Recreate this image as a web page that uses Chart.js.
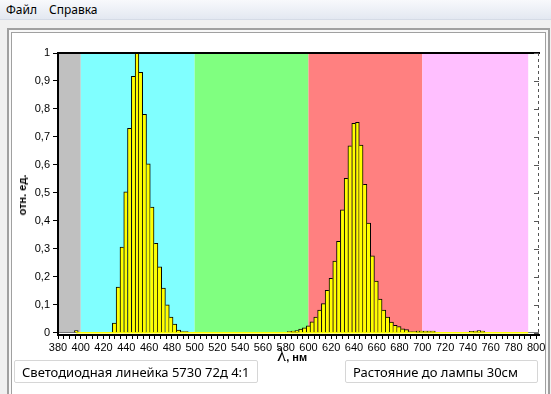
<!DOCTYPE html>
<html>
<head>
<meta charset="utf-8">
<script src="https://cdn.jsdelivr.net/npm/chart.js@4.4.1/dist/chart.umd.min.js"></script>
<style>
    body { margin: 0; width: 551px; height: 394px; background: #f0f0f0; overflow: hidden; position: relative; font-family: "Noto Sans", sans-serif; }
    .menu { position: absolute; left: 0; top: 0; width: 551px; height: 19px; background: linear-gradient(#f8f9fc, #e3e8f1); border-bottom: 1px solid #d5dbe6; font-size: 12px; }
    .menu span { position: absolute; top: 1px; }
    .outer { position: absolute; left: 7px; top: 28px; width: 539px; height: 380px; border: 2px solid #a0a0a0; background: #f8f8f8; }
    .inner { position: absolute; left: 11px; top: 32px; width: 533px; height: 380px; border: 1px solid #a0a0a0; background: #fff; }
    canvas { position: absolute; left: 0; top: 0; }
    .box { position: absolute; top: 360px; height: 23px; border: 1px solid #d6d6d6; border-radius: 2px; background: #fff; font-size: 13px; line-height: 23px; box-sizing: border-box; padding-left: 7px; white-space: nowrap; }
    .ytitle { position: absolute; left: 22px; top: 195px; transform: translate(-50%, -50%) rotate(-90deg); font: bold 11px "Liberation Sans", sans-serif; white-space: nowrap; }
    .xtitle { position: absolute; left: 277px; top: 344px; white-space: nowrap; }
    .xtitle .lam { font: 19px "Liberation Serif", serif; }
    .xtitle .unit { font: bold 11px "Liberation Sans", sans-serif; }
</style>
</head>
<body>
<div class="menu"><span style="left:6px">Файл</span><span style="left:49px">Справка</span></div>
<div class="outer"></div>
<div class="inner"></div>
<canvas id="spectrumChart" width="551" height="394"></canvas>
<div class="ytitle">отн. ед.</div>
<div class="xtitle"><span class="lam">λ</span><span class="unit">, нм</span></div>
<div class="box" style="left:14px; width:244px;">Светодиодная линейка 5730 72д 4:1</div>
<div class="box" style="left:345px; width:193px;">Растояние до лампы 30см</div>

<script>
// Colour bands behind the spectrum (nm)
const bandEdges = [380, 400, 500, 600, 700, 793];
const bandColors = ['#c0c0c0', '#80ffff', '#80ff80', '#ff8080', '#ffbfff'];

// Blue peak
const blueWl = [429.4, 432.7, 436.1, 439.4, 442.7, 446.1, 449.4, 452.7, 456.1, 459.4, 462.7, 466.1, 469.4, 472.7, 476.1, 479.4, 482.7, 486.1];
const blueVal = [0.035, 0.163, 0.306, 0.504, 0.731, 0.917, 1.0, 0.931, 0.781, 0.604, 0.449, 0.320, 0.236, 0.160, 0.100, 0.056, 0.031, 0.010];

// Red peak
const redWl = [593.0, 596.3, 599.7, 603.0, 606.3, 609.7, 613.0, 616.3, 619.7, 623.0, 626.3, 629.7, 633.0, 636.3, 639.7, 643.0, 646.3, 649.7, 653.0, 656.3, 659.7, 663.0, 666.3, 669.7, 673.0, 676.3, 679.7, 683.0, 686.3];
const redVal = [0.013, 0.018, 0.025, 0.039, 0.056, 0.081, 0.104, 0.152, 0.195, 0.256, 0.327, 0.439, 0.552, 0.668, 0.749, 0.752, 0.671, 0.531, 0.392, 0.275, 0.185, 0.120, 0.081, 0.056, 0.038, 0.027, 0.022, 0.014, 0.011];

// Small noise bars near zero
const noiseWl = [396.1, 489.4, 492.7, 583.0, 586.3, 589.7, 689.7, 693.0, 696.3, 699.7, 703.0, 706.3, 709.7, 743.0, 746.3, 749.7, 753.0];
const noiseVal = [0.008, 0.004, 0.004, 0.004, 0.006, 0.008, 0.004, 0.004, 0.006, 0.006, 0.006, 0.006, 0.006, 0.005, 0.006, 0.008, 0.006];

// Yellow zero line span
const baseWl = [396, 793];

function buildPoints() {
    let pts = [];
    blueWl.forEach((w, i) => pts.push({ x: w, y: blueVal[i] }));
    redWl.forEach((w, i) => pts.push({ x: w, y: redVal[i] }));
    noiseWl.forEach((w, i) => pts.push({ x: w, y: noiseVal[i] }));
    pts.sort((a, b) => a.x - b.x);
    return pts;
}

// Outline only the taller side of shared edges
function barBorder(ctx) {
    const d = ctx.dataset.data;
    const i = ctx.dataIndex;
    if (i === undefined || !d[i]) return 1;
    const v = d[i].y;
    const prev = (i > 0 && d[i].x - d[i - 1].x < 4) ? d[i - 1].y : 0;
    const next = (i < d.length - 1 && d[i + 1].x - d[i].x < 4) ? d[i + 1].y : 0;
    return { top: 1, bottom: 0, left: prev < v ? 1 : 0, right: next <= v ? 1 : 0 };
}

const bandsPlugin = {
    id: 'bands',
    beforeDraw(chart) {
        const { ctx, chartArea, scales } = chart;
        const y0 = scales.y.getPixelForValue(0);
        ctx.save();
        for (let i = 0; i < bandColors.length; i++) {
            const x0 = scales.x.getPixelForValue(bandEdges[i]);
            const x1 = scales.x.getPixelForValue(bandEdges[i + 1]);
            ctx.fillStyle = bandColors[i];
            ctx.fillRect(x0, chartArea.top, x1 - x0, y0 - chartArea.top);
        }
        ctx.restore();
    },
    afterDraw(chart) {
        const { ctx, chartArea, scales } = chart;
        ctx.save();
        // top frame
        ctx.strokeStyle = '#000';
        ctx.lineWidth = 2;
        ctx.beginPath();
        ctx.moveTo(chartArea.left, chartArea.top);
        ctx.lineTo(chartArea.right + 1, chartArea.top);
        ctx.stroke();
        // right dashed frame with inner ticks
        ctx.strokeStyle = '#555';
        ctx.lineWidth = 1;
        ctx.setLineDash([3, 3]);
        ctx.beginPath();
        ctx.moveTo(chartArea.right - 0.5, chartArea.top);
        ctx.lineTo(chartArea.right - 0.5, chartArea.bottom);
        ctx.stroke();
        ctx.setLineDash([]);
        scales.y.ticks.forEach(t => {
            const py = Math.round(scales.y.getPixelForValue(t.value)) + 0.5;
            ctx.beginPath();
            ctx.moveTo(chartArea.right - 5, py);
            ctx.lineTo(chartArea.right, py);
            ctx.stroke();
        });
        ctx.restore();
    }
};

const tickFont = { family: '"Liberation Sans", sans-serif', size: 11 };

new Chart(document.getElementById('spectrumChart'), {
    data: {
        datasets: [
            {
                type: 'bar',
                data: buildPoints(),
                backgroundColor: '#ffff00',
                borderColor: '#000',
                borderWidth: barBorder,
                categoryPercentage: 1,
                barPercentage: 1,
                order: 1
            },
            {
                type: 'line',
                data: baseWl.map(w => ({ x: w, y: 0 })),
                borderColor: '#ffff00',
                borderWidth: 1.5,
                pointRadius: 0,
                order: 2
            }
        ]
    },
    options: {
        responsive: false,
        devicePixelRatio: 1,
        animation: false,
        layout: { padding: { left: 20, top: 53, right: 12, bottom: 37 } },
        plugins: { legend: { display: false }, tooltip: { enabled: false } },
        scales: {
            x: {
                type: 'linear',
                min: 380,
                max: 802.5,
                offset: false,
                afterFit: s => { s.height = 22; },
                border: { color: '#000', width: 2 },
                grid: { drawOnChartArea: false, offset: false, tickLength: 4, tickColor: '#000' },
                ticks: {
                    stepSize: 5,
                    autoSkip: false,
                    includeBounds: false,
                    maxTicksLimit: 200,
                    maxRotation: 0,
                    padding: 2,
                    color: '#000',
                    font: tickFont,
                    callback: v => (v % 20 === 0 ? String(v) : '')
                }
            },
            y: {
                min: -0.008,
                max: 1,
                afterFit: s => { s.width = 38; },
                border: { color: '#000', width: 2 },
                grid: {
                    color: c => (c.tick && Math.abs(c.tick.value) < 1e-6 ? '#777' : 'rgba(0,0,0,0)'),
                    tickColor: '#000',
                    tickLength: 5,
                    drawTicks: true
                },
                ticks: {
                    stepSize: 0.1,
                    includeBounds: false,
                    maxTicksLimit: 20,
                    padding: 3,
                    color: '#000',
                    font: tickFont,
                    callback: v => {
                        if (Math.abs(v) < 1e-6) return '0';
                        if (Math.abs(v - 1) < 1e-6) return '1';
                        return v.toFixed(1).replace('.', ',');
                    }
                }
            }
        }
    },
    plugins: [bandsPlugin]
});
</script>
</body>
</html>
